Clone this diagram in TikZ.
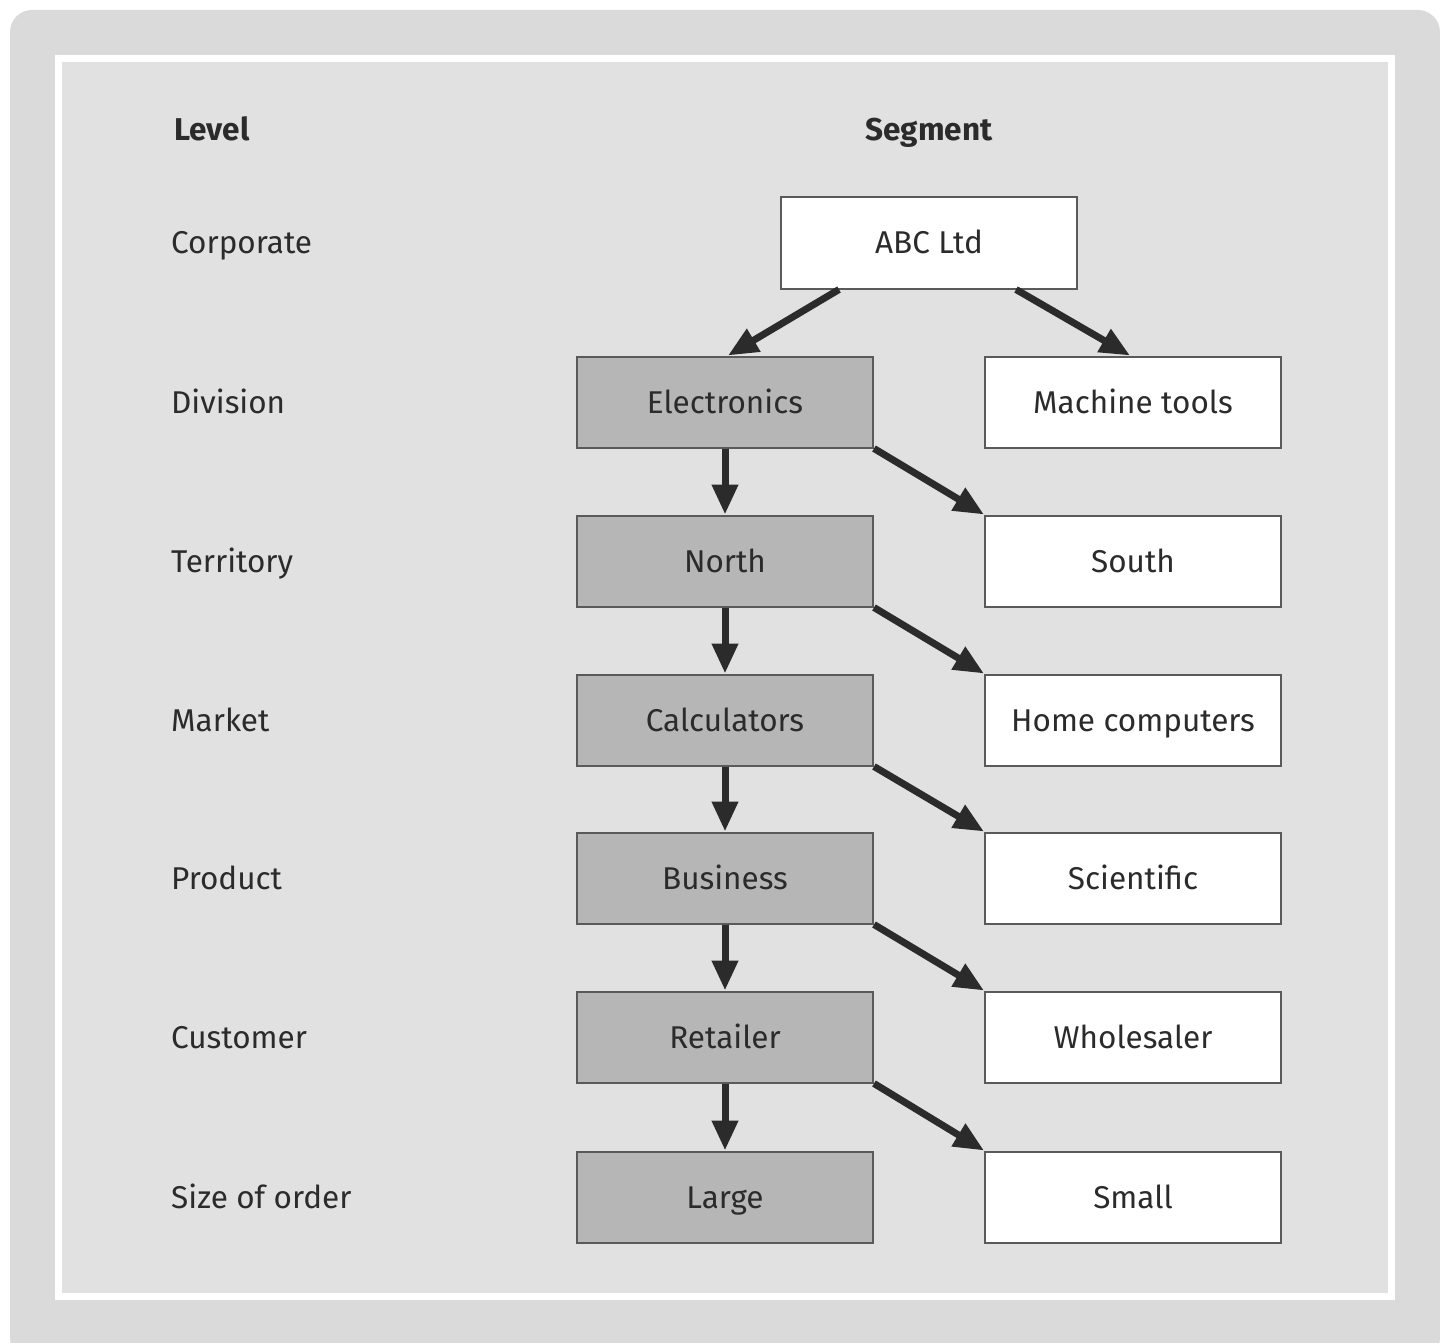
\documentclass[tikz,border=0pt]{standalone}
\usepackage{fontspec}
\setmainfont{Fira Sans}
\usetikzlibrary{arrows.meta}
\definecolor{frameback}{HTML}{DADADA}
\definecolor{panelback}{HTML}{E1E1E1}
\definecolor{boxgray}{HTML}{B6B6B6}
\definecolor{ink}{HTML}{2B2B2B}
\definecolor{edge}{HTML}{5A5A5A}
\begin{document}
\begin{tikzpicture}[x=1pt,y=-1pt,
  every node/.style={font=\fontsize{31.5}{38}\selectfont, text=ink, text height=22pt, text depth=0pt},
  seg/.style={draw=edge, line width=2pt, minimum width=296pt, minimum height=91pt, inner sep=0pt},
  chosen/.style={seg, fill=boxgray},
  other/.style={seg, fill=white},
  lvl/.style={anchor=west, inner sep=0pt},
  flow/.style={draw=ink, line width=7pt, -{Triangle[length=30pt,width=25pt]}}
]
\useasboundingbox (0,0) rectangle (1440,1343);
% outer frame and inner panel
\fill[frameback, rounded corners=22pt] (10,10) rectangle (1440,1360);
\fill[white] (55,55) rectangle (1395,1300);
\fill[panelback] (62,62) rectangle (1388,1293);

% column headings
\node[lvl, font=\fontsize{31.5}{38}\selectfont\bfseries] (hlevel) at (174,130) {Level};
\node[font=\fontsize{31.5}{38}\selectfont\bfseries] (hseg) at (929,130) {Segment};

% level labels
\node[lvl] (lcorp) at (171,243) {Corporate};
\node[lvl] (ldiv)  at (171,402) {Division};
\node[lvl] (lterr) at (171,561) {Territory};
\node[lvl] (lmkt)  at (171,720) {Market};
\node[lvl] (lprod) at (171,878) {Product};
\node[lvl] (lcust) at (171,1037) {Customer};
\node[lvl] (lsize) at (171,1197) {Size of order};

% segment boxes
\node[other]  (abc)   at (929,243)  {ABC Ltd};
\node[chosen] (elec)  at (725,402)  {Electronics};
\node[other]  (mach)  at (1133,402) {Machine tools};
\node[chosen] (north) at (725,561)  {North};
\node[other]  (south) at (1133,561) {South};
\node[chosen] (calc)  at (725,720)  {Calculators};
\node[other]  (home)  at (1133,720) {Home computers};
\node[chosen] (bus)   at (725,878)  {Business};
\node[other]  (sci)   at (1133,878) {Scientific};
\node[chosen] (ret)   at (725,1037) {Retailer};
\node[other]  (whole) at (1133,1037) {Wholesaler};
\node[chosen] (large) at (725,1197) {Large};
\node[other]  (small) at (1133,1197) {Small};

% connectors
\draw[flow] ([xshift=59pt]abc.south west) -- ([xshift=3pt]elec.north);
\draw[flow] ([xshift=-62pt]abc.south east) -- ([xshift=-3pt]mach.north);
\foreach \a/\b/\c in {elec/north/south, north/calc/home, calc/bus/sci, bus/ret/whole, ret/large/small}{
  \draw[flow] (\a.south) -- (\b.north);
  \draw[flow] (\a.south east) -- (\c.north west);
}
\end{tikzpicture}
\end{document}
